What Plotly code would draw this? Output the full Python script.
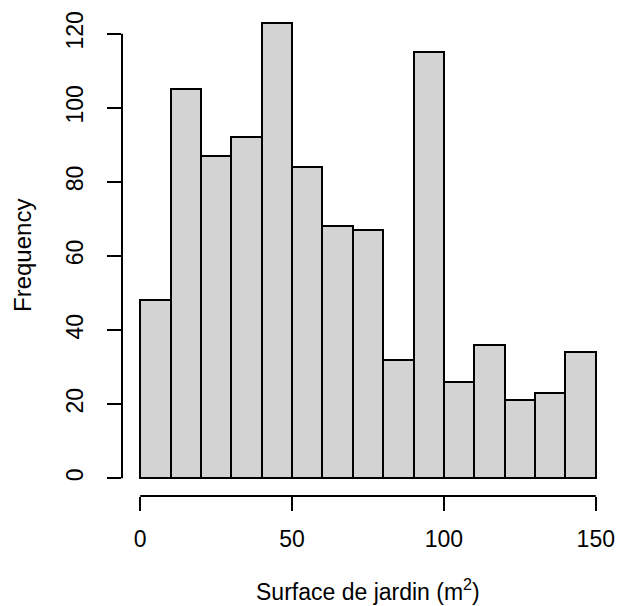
import plotly.graph_objects as go

bin_edges = [0, 10, 20, 30, 40, 50, 60, 70, 80, 90, 100, 110, 120, 130, 140, 150]
counts = [48, 105, 87, 92, 123, 84, 68, 67, 32, 115, 26, 36, 21, 23, 34]
x_ticks = [0, 50, 100, 150]
y_ticks = [0, 20, 40, 60, 80, 100, 120]
x_label = "Surface de jardin (m<sup>2</sup>)"
y_label = "Frequency"

centers = [(bin_edges[i] + bin_edges[i + 1]) / 2 for i in range(len(counts))]
widths = [bin_edges[i + 1] - bin_edges[i] for i in range(len(counts))]

family = "Liberation Sans, Arial, Helvetica, sans-serif"
tick_font = dict(family=family, size=23, color="black")
xtitle_font = dict(family=family, size=23, color="black")
ytitle_font = dict(family=family, size=24, color="black")

fig = go.Figure(go.Bar(
    x=centers, y=counts, width=widths,
    marker=dict(color="#D3D3D3", line=dict(color="black", width=2)),
    hoverinfo="skip",
))

span = bin_edges[-1] - bin_edges[0]
xr = [bin_edges[0] - 0.04 * span, bin_edges[-1] + 0.04 * span]
ymax = max(y_ticks)
yr = [-0.04 * ymax, ymax * 1.04]

fig.update_layout(
    width=617, height=606,
    margin=dict(l=122, r=3, t=16, b=110),
    paper_bgcolor="white", plot_bgcolor="white",
    bargap=0, showlegend=False, font=tick_font,
    xaxis=dict(range=xr, tickvals=x_ticks, ticks="outside", ticklen=14, tickwidth=2,
               tickcolor="black", showgrid=False, zeroline=False, showline=False,
               automargin=False, tickfont=tick_font, ticklabelstandoff=8),
    yaxis=dict(range=yr, tickvals=y_ticks, ticks="outside", ticklen=14, tickwidth=2,
               tickcolor="black", showgrid=False, zeroline=False, showline=False,
               automargin=False, tickangle=-90, tickfont=tick_font,
               ticklabelstandoff=15),
    shapes=[
        dict(type="line", xref="x", yref="paper", x0=x_ticks[0], x1=x_ticks[-1], y0=0, y1=0,
             line=dict(color="black", width=2)),
        dict(type="line", xref="paper", yref="y", x0=0, x1=0, y0=y_ticks[0], y1=y_ticks[-1],
             line=dict(color="black", width=2)),
    ],
    annotations=[
        dict(text=x_label, xref="x", yref="paper", x=(x_ticks[0] + x_ticks[-1]) / 2,
             y=-94 / 480, xanchor="center", yanchor="middle", showarrow=False, font=xtitle_font),
        dict(text=y_label, xref="paper", yref="y", x=-100 / 492, y=ymax / 2,
             xanchor="center", yanchor="middle", textangle=-90, showarrow=False, font=ytitle_font),
    ],
)

fig.write_html("out.html", config={"displayModeBar": False},
               post_script="document.body.style.margin='0';document.body.style.overflow='hidden';")
